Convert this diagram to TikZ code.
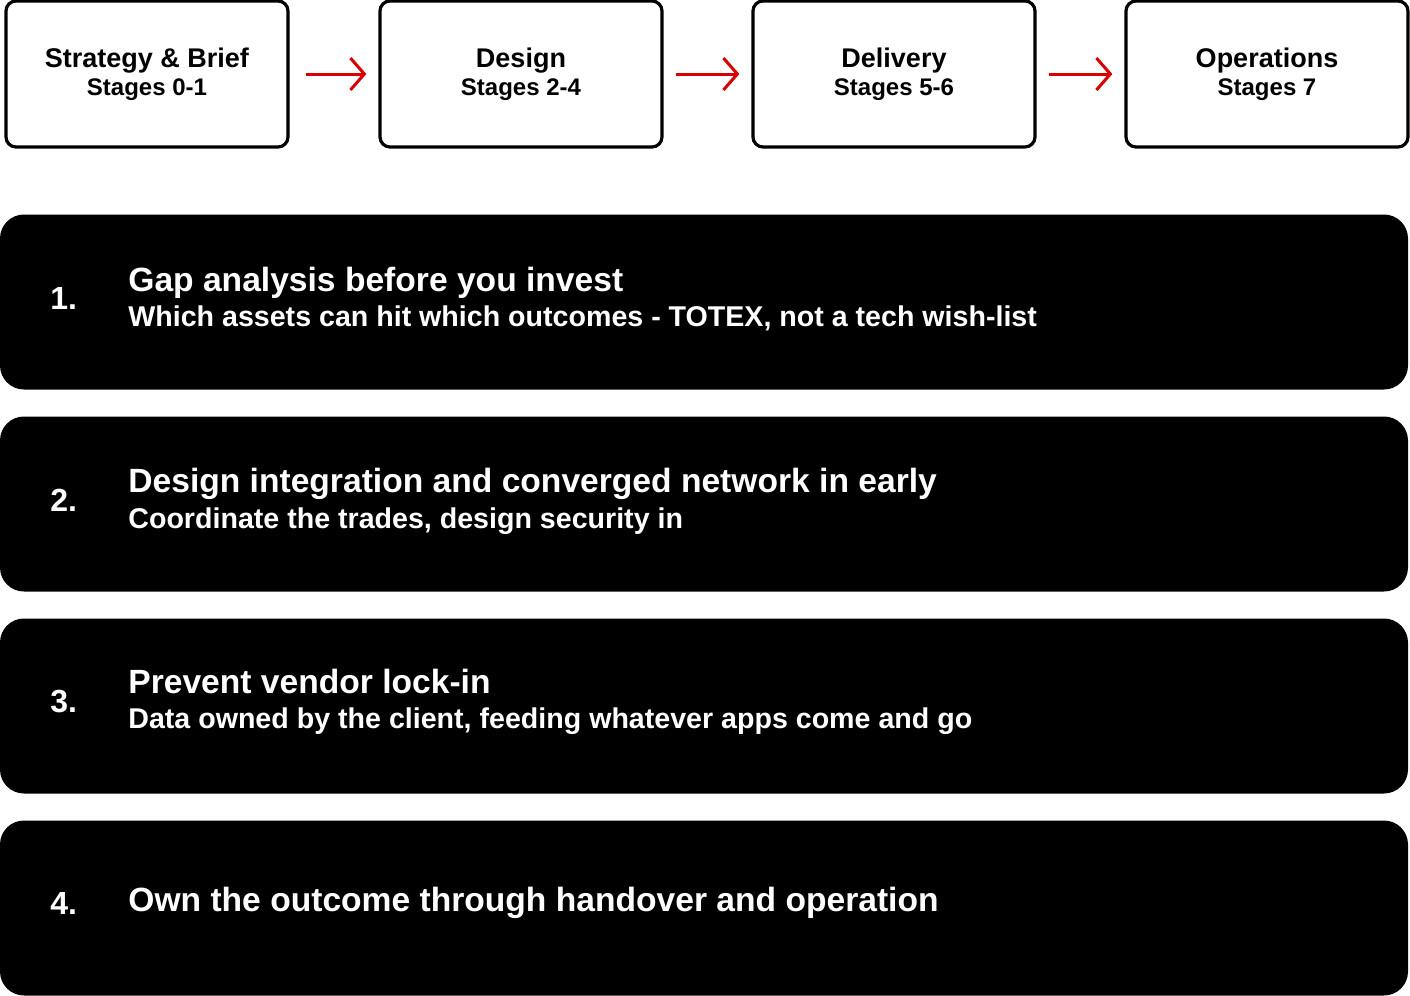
\documentclass[tikz,border=0pt]{standalone}
\usepackage{fontspec}
\setmainfont{Liberation Sans}
\usetikzlibrary{arrows.meta}
\tikzstyle{stage}=[draw=black, line width=1.6pt, rounded corners=5pt, minimum width=141pt, minimum height=73pt, align=center, font=\bfseries\fontsize{13.5}{15}\selectfont, inner sep=0pt]
\tikzstyle{bar}=[fill=black, rounded corners=12pt, minimum width=704pt, minimum height=87.5pt, inner sep=0pt]
\tikzstyle{num}=[text=white, anchor=west, font=\bfseries\fontsize{16}{19}\selectfont, inner sep=0pt]
\tikzstyle{item}=[text=white, anchor=west, align=left, inner sep=0pt]
\tikzstyle{arrow}=[draw=red!85!black, line width=1.5pt, -{Straight Barb[length=7pt, width=16pt]}]

\begin{document}
\begin{tikzpicture}[x=0.5pt, y=-0.5pt]
	\useasboundingbox (0,0) rectangle (1410,996);
	\begin{scope}
		\node (s1) at (147, 74)[stage] {Strategy \& Brief\\[-1pt]\fontsize{12}{13}\selectfont Stages 0-1};
		\node (s2) at (521, 74)[stage] {Design\\[-1pt]\fontsize{12}{13}\selectfont Stages 2-4};
		\node (s3) at (894, 74)[stage] {Delivery\\[-1pt]\fontsize{12}{13}\selectfont Stages 5-6};
		\node (s4) at (1267, 74)[stage] {Operations\\[-1pt]\fontsize{12}{13}\selectfont Stages 7};
	\end{scope}
	\begin{scope}
		\path [arrow] ([xshift=8pt]s1.east) -- ([xshift=-6pt]s2.west);
		\path [arrow] ([xshift=6pt]s2.east) -- ([xshift=-6pt]s3.west);
		\path [arrow] ([xshift=6pt]s3.east) -- ([xshift=-6pt]s4.west);
	\end{scope}
	\begin{scope}
		\node (b1) at (704, 302)[bar] {};
		\node (b2) at (704, 504)[bar] {};
		\node (b3) at (704, 706)[bar] {};
		\node (b4) at (704, 908)[bar] {};
		\node (n1) at (50, 298)[num] {1.};
		\node (n2) at (50, 500)[num] {2.};
		\node (n3) at (50, 701)[num] {3.};
		\node (n4) at (50, 903)[num] {4.};
		\node (t1) at (128, 299)[item] {\bfseries\fontsize{16.8}{18}\selectfont Gap analysis before you invest\\[3pt]\bfseries\fontsize{14.3}{16}\selectfont Which assets can hit which outcomes - TOTEX, not a tech wish-list};
		\node (t2) at (128, 501)[item] {\bfseries\fontsize{16.8}{18}\selectfont Design integration and converged network in early\\[3pt]\bfseries\fontsize{14.3}{16}\selectfont Coordinate the trades, design security in};
		\node (t3) at (128, 702)[item] {\bfseries\fontsize{16.8}{18}\selectfont Prevent vendor lock-in\\[5.5pt]\bfseries\fontsize{14.3}{16}\selectfont Data owned by the client, feeding whatever apps come and go};
		\node (t4) at (128, 903)[item] {\bfseries\fontsize{16.8}{18}\selectfont Own the outcome through handover and operation};
	\end{scope}
\end{tikzpicture}
\end{document}
